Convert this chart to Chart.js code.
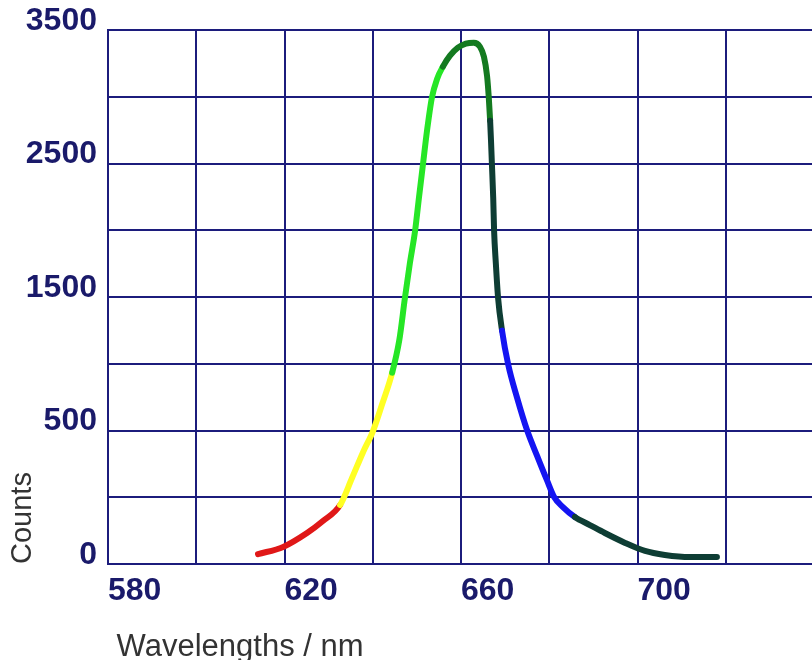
<!DOCTYPE html>
<html>
<head>
<meta charset="utf-8">
<title>Counts vs wavelength</title>
<script src="https://cdn.jsdelivr.net/npm/chart.js@4.4.1/dist/chart.umd.min.js"></script>
<style>
  html, body { margin: 0; padding: 0; background: #fff; overflow: hidden; }
  #wrap { width: 822px; height: 660px; }
</style>
</head>
<body>
<div id="wrap"><canvas id="spec"></canvas></div>
<script>
// ---------- DATA ----------
const WAVELENGTH = [614.0, 619.7, 625.1, 628.7, 632.6, 635.3, 637.8, 640.1, 642.1, 644.4,
                    646.0, 647.3, 648.4, 649.6, 650.5, 651.4, 652.3, 653.4, 654.6, 655.9,
                    657.5, 659.3, 661.1, 662.9, 664.3, 665.2, 665.9, 666.3, 666.6, 666.8,
                    667.0, 667.3, 667.5, 667.9, 668.4, 669.3, 670.7, 672.7, 675.0, 677.2,
                    679.5, 681.1, 683.1, 685.8, 689.2, 692.6, 697.2, 701.7, 706.2, 711.9,
                    718.0];
const COUNTS     = [37, 64, 116, 161, 221, 322, 419, 500, 695, 934,
                    1174, 1496, 1751, 1998, 2253, 2500, 2747, 2994, 3137, 3227,
                    3309, 3369, 3399, 3406, 3376, 3301, 3159, 2994, 2822, 2672,
                    2500, 2245, 1998, 1751, 1496, 1249, 994, 747, 500, 407,
                    313, 251, 213, 176, 146, 116, 79, 49, 34, 26,
                    26];

// colour bands along the curve (nm where each colour ends)
const BAND_EDGES  = [632.6, 644.4, 655.9, 666.6, 669.3, 685.8];
const BAND_COLORS = ['#e01818', '#ffff24', '#26e626', '#147a20', '#0e3d34', '#1414f2', '#0e3d34'];

const X_GRID   = [580, 600, 620, 640, 660, 680, 700, 720, 740];
const X_LABELS = [580, 620, 660, 700];
const Y_GRID   = [0, 250, 500, 1000, 1500, 2000, 2500, 3000, 3500];
const Y_LABELS = [0, 500, 1500, 2500, 3500];

// ---------- STYLE ----------
const GRID_COL = '#1c1c7c';
const TICK_COL = '#1a1a6a';
const FONT     = "'Liberation Sans', Arial, sans-serif";

// the original axis squeezes 0-500 into two grid rows, 500 per row above that
const toAxis   = v => v < 500 ? 2 * v - 500 : v;
const fromAxis = u => u < 500 ? (u + 500) / 2 : u;

class SplitScale extends Chart.LinearScale {
  configure () {
    super.configure();
    this._startValue = toAxis(this.min);
    this._endValue   = toAxis(this.max);
    this._valueRange = this._endValue - this._startValue;
  }
  getPixelForValue (v) { return v == null ? NaN : super.getPixelForValue(toAxis(v)); }
  getValueForPixel (p) { return fromAxis(super.getValueForPixel(p)); }
}
SplitScale.id = 'split';
SplitScale.defaults = Chart.LinearScale.defaults;
Chart.register(SplitScale);

function bandColor (x) {
  let i = 0;
  while (i < BAND_EDGES.length && x >= BAND_EDGES[i] - 1e-6) i++;
  return BAND_COLORS[i];
}

const gridOpts = { color: GRID_COL, lineWidth: 2, drawTicks: false };
const tickFont = { family: FONT, size: 32, weight: 'bold' };

new Chart(document.getElementById('spec'), {
  type: 'line',
  data: {
    datasets: [{
      data: WAVELENGTH.map((x, i) => ({ x, y: COUNTS[i] })),
      borderWidth: 6,
      borderCapStyle: 'round',
      borderJoinStyle: 'round',
      cubicInterpolationMode: 'monotone',
      pointRadius: 0,
      segment: { borderColor: c => bandColor(c.p0.parsed.x) }
    }]
  },
  options: {
    responsive: true,
    maintainAspectRatio: false,
    animation: false,
    layout: { padding: { top: 30, right: 0, left: 0, bottom: 0 } },
    plugins: { legend: { display: false }, tooltip: { enabled: false } },
    scales: {
      x: {
        type: 'linear', min: 580, max: 740,
        afterBuildTicks: s => { s.ticks = X_GRID.map(v => ({ value: v })); },
        afterFit: s => { s.height = 96; },
        grid: gridOpts,
        border: { color: GRID_COL, width: 2 },
        ticks: {
          align: 'start', padding: 8, color: TICK_COL, font: tickFont, maxRotation: 0, autoSkip: false,
          callback: v => X_LABELS.includes(v) ? String(v) : ''
        },
        title: {
          display: true, text: ' Wavelengths / nm', align: 'start', color: '#333',
          font: { family: FONT, size: 31, lineHeight: 1 }, padding: { top: 0, bottom: -3 }
        }
      },
      y: {
        type: 'split', min: 0, max: 3500,
        afterBuildTicks: s => { s.ticks = Y_GRID.map(v => ({ value: v })); },
        afterFit: s => { s.width = 108; },
        grid: gridOpts,
        border: { color: GRID_COL, width: 2 },
        ticks: {
          padding: 11, labelOffset: -9, color: TICK_COL, font: tickFont, autoSkip: false,
          callback: v => Y_LABELS.includes(v) ? String(v) : ''
        },
        title: {
          display: true, text: 'Counts', align: 'start', color: '#333',
          font: { family: FONT, size: 29, lineHeight: 1.2 }, padding: { top: 6, bottom: 0 }
        }
      }
    }
  }
});
</script>
</body>
</html>
